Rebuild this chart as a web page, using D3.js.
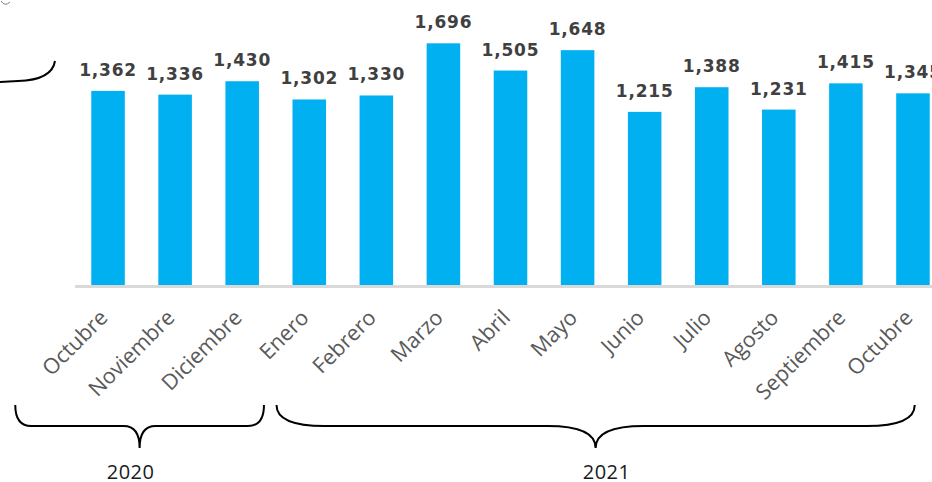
<!DOCTYPE html>
<html>
<head>
<meta charset="utf-8">
<script src="https://cdn.jsdelivr.net/npm/d3@7"></script>
<style>
  html, body { margin: 0; padding: 0; background: #ffffff; }
  svg { display: block; }
</style>
</head>
<body>
<div id="chart"></div>
<script>
// Monthly totals, October 2020 – October 2021
const months = ["Octubre", "Noviembre", "Diciembre", "Enero", "Febrero", "Marzo", "Abril",
                "Mayo", "Junio", "Julio", "Agosto", "Septiembre", "Octubre"];
const values = [1362, 1336, 1430, 1302, 1330, 1696, 1505, 1648, 1215, 1388, 1231, 1415, 1345];
const years = ["2020", "2021"];
// index range of months covered by each year
const yearStart = [0, 3];
const yearEnd = [2, 12];

const width = 932, height = 482;
const keys = months.map((m, i) => i);

const svg = d3.select("#chart").append("svg")
  .attr("width", width)
  .attr("height", height);

const x = d3.scaleBand()
  .domain(keys)
  .range([74.5, 946.5])
  .paddingInner(0.5)
  .paddingOuter(0.25);

const y = d3.scaleLinear()
  .domain([0, 2000])
  .range([285, 0]);

// bars
svg.append("g").selectAll("rect")
  .data(values)
  .join("rect")
  .attr("x", (d, i) => x(i))
  .attr("y", d => y(d))
  .attr("width", x.bandwidth())
  .attr("height", d => y(0) - y(d))
  .attr("fill", "#00b0f0");

// baseline
svg.append("line")
  .attr("x1", 75).attr("x2", width)
  .attr("y1", y(0) + 1.5).attr("y2", y(0) + 1.5)
  .attr("stroke", "#d9d9d9")
  .attr("stroke-width", 3);

// value labels
const fmt = d3.format(",");
svg.append("g").selectAll("text")
  .data(values)
  .join("text")
  .attr("x", (d, i) => x(i) + x.bandwidth() / 2)
  .attr("y", d => y(d) - 15)
  .attr("text-anchor", "middle")
  .attr("font-family", "DejaVu Sans, Verdana, sans-serif")
  .attr("font-weight", "bold")
  .attr("font-size", 17)
  .attr("letter-spacing", 0.8)
  .attr("fill", "#404040")
  .text(d => fmt(d));

// month labels, rotated
const xAxis = d3.axisBottom(x).tickSize(0).tickFormat(i => months[i]);
const axisG = svg.append("g")
  .attr("transform", `translate(0,${y(0)})`)
  .call(xAxis);
axisG.select(".domain").remove();
axisG.selectAll("text")
  .attr("font-family", "Open Sans, sans-serif")
  .attr("font-size", 21.5)
  .attr("fill", "#595959")
  .attr("text-anchor", "end")
  .attr("dy", null)
  .attr("y", 0)
  .attr("transform", "translate(1,34) rotate(-45)");

// year braces
function bracePath(x0, x1, xm, r) {
  const yTop = 405, yMid = 426, yTip = 448;
  return `M${x0},${yTop} Q${x0},${yMid} ${x0 + r},${yMid}` +
         ` L${xm - r},${yMid} Q${xm},${yMid} ${xm},${yTip}` +
         ` Q${xm},${yMid} ${xm + r},${yMid}` +
         ` L${x1 - r},${yMid} Q${x1},${yMid} ${x1},${yTop}`;
}

// brace ends relative to the first / last bar of each year
const braceLeftOffset = [-76, -16];
const braceRightOffset = [5, -15];
const braceRadius = [16, 48];
const yearLabelShift = [-9, 11];

const braceG = svg.append("g");
years.forEach((yr, k) => {
  const x0 = x(yearStart[k]) + braceLeftOffset[k];
  const x1 = x(yearEnd[k]) + x.bandwidth() + braceRightOffset[k];
  const xm = (x0 + x1) / 2;
  braceG.append("path")
    .attr("d", bracePath(x0, x1, xm, braceRadius[k]))
    .attr("fill", "none")
    .attr("stroke", "#000000")
    .attr("stroke-width", 2);
  braceG.append("text")
    .attr("x", xm + yearLabelShift[k])
    .attr("y", 479)
    .attr("text-anchor", "middle")
    .attr("font-family", "Open Sans, sans-serif")
    .attr("font-size", 20)
    .attr("letter-spacing", 0.5)
    .attr("fill", "#1a1a1a")
    .text(yr);
});

// trailing brace end at the upper left
svg.append("path")
  .attr("d", "M55,61 Q52,80 18,81 L0,82")
  .attr("fill", "none")
  .attr("stroke", "#000000")
  .attr("stroke-width", 2);
svg.append("path")
  .attr("d", "M1,1 Q5,7 10,2")
  .attr("fill", "none")
  .attr("stroke", "#808080")
  .attr("stroke-width", 1);
</script>
</body>
</html>
